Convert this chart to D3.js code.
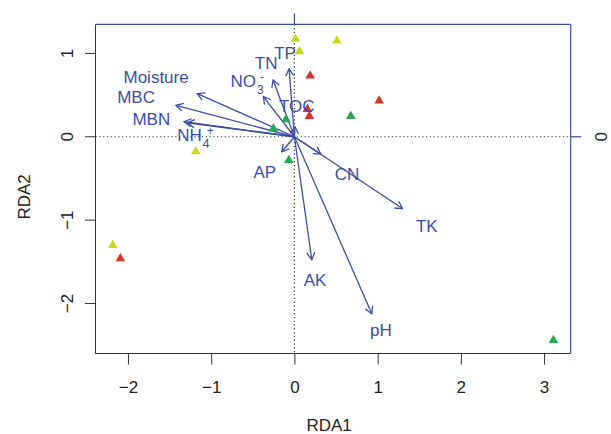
<!DOCTYPE html>
<html><head><meta charset="utf-8">
<script src="https://cdn.jsdelivr.net/npm/d3@7"></script>
<style>
html,body{margin:0;padding:0;background:#fff;}
svg text{font-family:"Liberation Sans",Arial,sans-serif;}
</style></head>
<body><svg id="c" width="611" height="434"></svg>
<script>
// ---- data ----
const xTicks = [-2, -1, 0, 1, 2, 3];
const yTicks = [1, 0, -1, -2];
const siteGroup = ["Y","Y","Y","Y","Y","R","R","R","R","R","G","G","G","G","G"];
const siteX = [0.012, 0.510, 0.060, -1.185, -2.183, 0.189, 1.018, 0.156, 0.180, -2.091, 0.678, -0.100, -0.252, -0.067, 3.113];
const siteY = [1.183, 1.162, 1.034, -0.168, -1.293, 0.742, 0.441, 0.341, 0.257, -1.450, 0.257, 0.216, 0.105, -0.272, -2.432];
const envNames = ["Moisture","MBC","MBN","NH4","TN","NO3","TP","TOC","AP","CN","TK","AK","pH"];
const envX = [-1.166, -1.422, -1.326, -1.286, -0.256, -0.373, -0.064, 0.008, -0.151, 0.317, 1.298, 0.209, 0.930];
const envY = [0.517, 0.377, 0.180, 0.168, 0.681, 0.481, 0.814, 0.120, -0.180, -0.208, -0.861, -1.474, -2.123];
const labelX = [-1.662, -1.903, -1.719, -1.20, -0.340, -0.555, -0.112, 0.029, -0.356, 0.633, 1.591, 0.249, 1.040];
const labelY = [0.721, 0.481, 0.213, 0.022, 0.882, 0.672, 1.002, 0.369, -0.421, -0.448, -1.073, -1.714, -2.323];
const labelBase = ["Moisture","MBC","MBN","NH","TN","NO","TP","TOC","AP","CN","TK","AK","pH"];
const labelSub = ["","","","4","","3","","","","","","",""];
const labelSup = ["","","","+","","-","","","","","","",""];

// ---- styles ----
const blue = "#3b4ea6";
const dark = "#333";
const groupColor = {Y:"#c9d81a", R:"#d8342c", G:"#26a84e"};

const svg = d3.select("#c");
const x = d3.scaleLinear().domain([-2.39, 3.32]).range([95.5, 570.7]);
const y = d3.scaleLinear().domain([1.349, -2.60]).range([24.3, 353.5]);
const L = x.range()[0], R = x.range()[1], T = y.range()[0], B = y.range()[1];

svg.append("defs").append("marker")
  .attr("id","ah").attr("viewBox","-10 -6 12 12").attr("refX",0).attr("refY",0)
  .attr("markerWidth",12).attr("markerHeight",12).attr("markerUnits","userSpaceOnUse")
  .attr("orient","auto")
  .append("path").attr("d","M-7,-4 L0,0 L-7,4").attr("fill","none")
  .attr("stroke",blue).attr("stroke-width",1.3);

// dotted zero lines
svg.append("line").attr("x1",L).attr("x2",R).attr("y1",y(0)).attr("y2",y(0))
  .attr("stroke",dark).attr("stroke-width",1.2).attr("stroke-dasharray","1.2,2.6");
svg.append("line").attr("x1",x(0)).attr("x2",x(0)).attr("y1",T).attr("y2",B)
  .attr("stroke",dark).attr("stroke-width",1.2).attr("stroke-dasharray","1.2,2.6");

// box: left & bottom dark, top & right blue
svg.append("line").attr("x1",L).attr("x2",L).attr("y1",T).attr("y2",B).attr("stroke",dark).attr("stroke-width",1);
svg.append("line").attr("x1",L).attr("x2",R).attr("y1",B).attr("y2",B).attr("stroke",dark).attr("stroke-width",1);
svg.append("line").attr("x1",L).attr("x2",R).attr("y1",T).attr("y2",T).attr("stroke",blue).attr("stroke-width",1.2);
svg.append("line").attr("x1",R).attr("x2",R).attr("y1",T).attr("y2",B).attr("stroke",blue).attr("stroke-width",1.2);

// bottom axis
const gx = svg.append("g").attr("transform",`translate(0,${B})`)
  .call(d3.axisBottom(x).tickValues(xTicks).tickSize(11).tickPadding(16).tickFormat(d3.format("d")));
gx.select(".domain").remove();
gx.selectAll(".tick line").attr("stroke",dark);
gx.selectAll(".tick text").attr("fill","#222").style("font-size","17px").style("font-family","Liberation Sans, Arial, sans-serif");

// left axis (rotated labels)
const gy = svg.append("g");
gy.selectAll("line").data(yTicks).join("line")
  .attr("x1",L-10.5).attr("x2",L).attr("y1",d=>y(d)).attr("y2",d=>y(d)).attr("stroke",dark);
gy.selectAll("text").data(yTicks).join("text")
  .attr("transform",d=>`translate(73,${y(d)}) rotate(-90)`)
  .attr("text-anchor","middle").attr("fill","#222").style("font-size","17px")
  .text(d=>d3.format("d")(d));

// top & right blue ticks at 0
svg.append("line").attr("x1",x(0)).attr("x2",x(0)).attr("y1",T-11).attr("y2",T).attr("stroke",blue).attr("stroke-width",1.2);
svg.append("line").attr("x1",R).attr("x2",R+10.5).attr("y1",y(0)).attr("y2",y(0)).attr("stroke",blue).attr("stroke-width",1.2);
svg.append("text").attr("transform",`translate(607,${y(0)}) rotate(-90)`)
  .attr("text-anchor","middle").attr("fill","#222").style("font-size","17px").text("0");

// axis titles
svg.append("text").attr("x",(L+R)/2-4).attr("y",431).attr("text-anchor","middle")
  .attr("fill","#222").style("font-size","17px").text("RDA1");
svg.append("text").attr("transform",`translate(30,${(T+B)/2+8}) rotate(-90)`)
  .attr("text-anchor","middle").attr("fill","#222").style("font-size","17px").text("RDA2");

// arrows
svg.append("g").selectAll("line").data(envNames).join("line")
  .attr("x1",x(0)).attr("y1",y(0))
  .attr("x2",(d,i)=>x(envX[i])).attr("y2",(d,i)=>y(envY[i]))
  .attr("stroke",blue).attr("stroke-width",1.3).attr("marker-end","url(#ah)");

// sites
const tri = d3.symbol().type(d3.symbolTriangle).size(40);
svg.append("g").selectAll("path").data(siteX).join("path")
  .attr("d",tri)
  .attr("transform",(d,i)=>`translate(${x(siteX[i])},${y(siteY[i])+0.8})`)
  .attr("fill",(d,i)=>groupColor[siteGroup[i]]);

// labels
const lg = svg.append("g");
envNames.forEach((n,i)=>{
  const g = lg.append("g");
  const base = g.append("text").attr("x",0).attr("y",6).attr("fill",blue)
    .style("font-size","17px").text(labelBase[i]);
  const w = base.node().getComputedTextLength();
  let total = w;
  if (labelSub[i]) {
    g.append("text").attr("x",w+1).attr("y",13).attr("fill",blue).style("font-size","12px").text(labelSub[i]);
    g.append("text").attr("x",w+(labelSup[i]==="+"?5:4)).attr("y",0).attr("fill",blue)
      .style("font-size","12px").text(labelSup[i]);
    total = w + 10;
  }
  g.attr("transform",`translate(${x(labelX[i]) - total/2},${y(labelY[i])})`);
});
</script></body></html>
